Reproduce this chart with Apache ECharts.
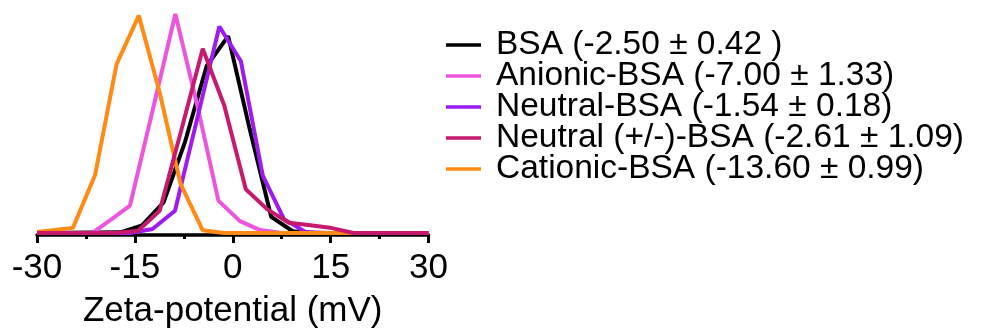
<!DOCTYPE html>
<html>
<head>
<meta charset="utf-8">
<script src="https://cdn.jsdelivr.net/npm/echarts@6/dist/echarts.min.js"></script>
<style>html,body{margin:0;padding:0;background:#fff;}#c{width:995px;height:334px;}</style>
</head>
<body>
<div id="c"></div>
<script>
// Series names (legend labels)
const names = [
  'BSA (-2.50 ± 0.42 )',
  'Anionic-BSA (-7.00 ± 1.33)',
  'Neutral-BSA (-1.54 ± 0.18)',
  'Neutral (+/-)-BSA (-2.61 ± 1.09)',
  'Cationic-BSA (-13.60 ± 0.99)'
];
// [zeta potential (mV), relative intensity]
const bsa = [[-30,0],[-17.2,0.3],[-13.9,3.4],[-10.6,13.7],[-7.3,41],[-4.0,74.9],[-0.7,88.3],[2.6,46.6],[5.9,7.2],[9.2,0.8],[12.5,0],[30,0]];
const anionic = [[-30,0],[-21.5,0],[-18.6,6.1],[-15.75,12.3],[-12.3,54.7],[-8.8,98.2],[-5.5,58.1],[-2.2,14.5],[1.1,5.3],[4.2,1.3],[7.5,0],[30,0]];
const neutral = [[-30,0],[-15.7,0],[-12.3,1.8],[-8.85,10.0],[-5.45,51.3],[-2.05,92.6],[1.25,77.0],[4.6,25.7],[7.85,6.2],[11.15,0.5],[14.5,0],[30,0]];
const neutralPM = [[-30,0],[-17.8,0],[-14.5,1],[-11.2,10],[-7.9,46],[-4.6,82.6],[-1.3,57.2],[2.0,19.6],[5.3,10.6],[8.6,4.6],[11.9,3.5],[15.2,2.2],[18.5,0],[30,0]];
const cationic = [[-30,0.4],[-24.5,2.3],[-21.1,26],[-17.8,75.7],[-14.4,97.5],[-11.2,63],[-8.0,22],[-4.6,1.2],[-1.4,0],[30,0]];
const xTicks = [-30, -15, 0, 15, 30];
const colors = ['#000000', '#EE55DD', '#9F1AF0', '#C71A6E', '#FF8A14'];

const seriesData = [bsa, anionic, neutral, neutralPM, cationic];
const drawOrder = [0, 1, 2, 4, 3];
const FONT = "'Liberation Sans', Arial, sans-serif";

const chart = echarts.init(document.getElementById('c'), null, {renderer: 'canvas'});
chart.setOption({
  animation: false,
  backgroundColor: '#ffffff',
  grid: {left: 37, right: 566.5, top: 10, bottom: 96, containLabel: false},
  xAxis: {
    type: 'value', min: xTicks[0], max: xTicks[xTicks.length - 1], interval: 15,
    name: 'Zeta-potential (mV)', nameLocation: 'middle', nameGap: 59,
    nameTextStyle: {fontSize: 35, color: '#000', fontFamily: FONT},
    axisLine: {show: true, onZero: false, lineStyle: {color: '#000', width: 3.5}},
    axisTick: {show: true, length: 8, lineStyle: {color: '#000', width: 3}},
    minorTick: {show: true, splitNumber: 2, length: 4, lineStyle: {color: '#000', width: 3}},
    axisLabel: {fontSize: 35, color: '#000', fontFamily: FONT, margin: 16},
    splitLine: {show: false}
  },
  yAxis: {type: 'value', min: -0.9, max: 100, show: false, splitLine: {show: false}},
  legend: {
    orient: 'vertical', left: 446, top: 28, padding: 0, itemGap: -3,
    itemWidth: 35, itemHeight: 3.5, icon: 'rect',
    data: names,
    textStyle: {fontSize: 33.5, color: '#000', fontFamily: FONT, padding: [0, 0, 0, 10]}
  },
  series: drawOrder.map(i => ({
    name: names[i], type: 'line', data: seriesData[i], showSymbol: false, symbol: 'none',
    color: colors[i], lineStyle: {color: colors[i], width: 4}, z: 2 + drawOrder.indexOf(i)
  }))
});
</script>
</body>
</html>
